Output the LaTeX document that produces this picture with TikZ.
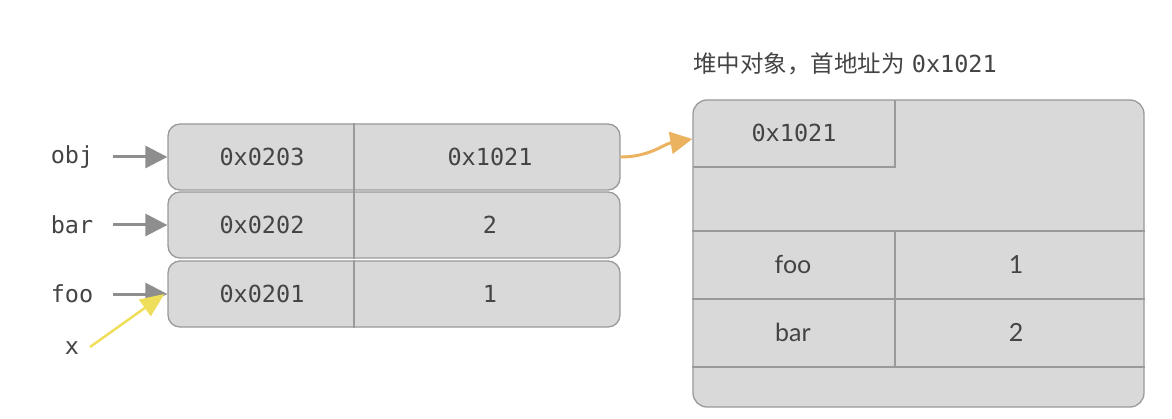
\documentclass[tikz,border=0pt]{standalone}
\usepackage{fontspec}
\setmonofont{DejaVu Sans Mono}
\setsansfont{Lato}
\newfontfamily\cjk{Noto Sans CJK SC}
\usetikzlibrary{arrows.meta}

\definecolor{cellgray}{HTML}{D9D9D9}
\definecolor{linegray}{HTML}{9A9A9A}
\definecolor{ptrgray}{HTML}{8E8E8E}
\definecolor{txtgray}{HTML}{444444}
\definecolor{ptryellow}{HTML}{EEDE5A}
\definecolor{ptrorange}{HTML}{EBB35F}

\tikzset{
  row/.style={draw=linegray,fill=cellgray,line width=1.3pt,rounded corners=12pt,minimum width=452pt,minimum height=66pt},
  txt/.style={text=txtgray,font=\fontsize{23.5}{28}\selectfont\ttfamily,inner sep=0pt},
  stxt/.style={text=txtgray,font=\fontsize{25}{30}\selectfont\sffamily,inner sep=0pt},
  sep/.style={draw=linegray,line width=1.3pt},
  ptr/.style={-{Triangle[length=22pt,width=22pt]},draw=ptrgray,line width=3pt}
}

\begin{document}
\begin{tikzpicture}[x=1pt,y=1pt]
\useasboundingbox (0,0) rectangle (1172,418);

		% stack
		\node[row] (objrow) at (394,261) {};
		\node[row] (barrow) at (394,193) {};
		\node[row] (foorow) at (394,124) {};
		\coordinate (div) at (354,0);
		\draw[sep] (objrow.north -| div) -- (objrow.south -| div);
		\draw[sep] (barrow.north -| div) -- (barrow.south -| div);
		\draw[sep] (foorow.north -| div) -- (foorow.south -| div);

		\node[txt] (objaddr) at (262,261) {0x0203};
		\node[txt] (objval) at (490,261) {0x1021};
		\node[txt] (baraddr) at (262,193) {0x0202};
		\node[txt] (barval) at (490,193) {2};
		\node[txt] (fooaddr) at (262,124) {0x0201};
		\node[txt] (fooval) at (490,124) {1};

		\node[txt] (objlbl) at (72,261) {obj};
		\node[txt] (barlbl) at (72,193) {bar};
		\node[txt] (foolbl) at (72,124) {foo};
		\node[txt] (xlbl) at (72,70) {x};
		\coordinate (xs) at (90,71);

		\draw[ptr,shorten <=20pt] (objlbl.east) -- (objrow.west);
		\draw[ptr,shorten <=20pt] (barlbl.east) -- (barrow.west);
		\draw[ptr,shorten <=20pt] (foolbl.east) -- (foorow.west);
		\draw[ptr,draw=ptryellow,line width=2.5pt,-{Triangle[length=24pt,width=20pt]}] (xs) -- ([xshift=-3pt]foorow.west);

		% heap
		\node[draw=linegray,fill=cellgray,line width=1.3pt,rounded corners=14pt,minimum width=451pt,minimum height=307pt] (heap) at (918.5,164.5) {};
		\draw[sep] (693,251) -- (895,251) -- (895,318);
		\draw[sep] (heap.west |- 0,187) -- (heap.east |- 0,187);
		\draw[sep] (heap.west |- 0,119) -- (heap.east |- 0,119);
		\draw[sep] (heap.west |- 0,51) -- (heap.east |- 0,51);
		\draw[sep] (895,187) -- (895,51);

		\node[txt] (heapaddr) at (794,285) {0x1021};
		\node[stxt] (hfoo) at (793,153) {foo};
		\node[stxt] (hone) at (1016,153) {1};
		\node[stxt] (hbar) at (793,86) {bar};
		\node[stxt] (htwo) at (1016,86) {2};

		\node[text=txtgray,font=\fontsize{23.5}{28}\selectfont,inner sep=0pt] (title) at (845,354) {{\cjk 堆中对象，首地址为}\ \texttt{0x1021}};

		\draw[ptr,draw=ptrorange,line width=3pt,-{Triangle[length=22pt,width=22pt]}] (objrow.east) to[out=0,in=190] ([yshift=-6pt]heap.north west |- heapaddr);
	\end{tikzpicture}
\end{document}
